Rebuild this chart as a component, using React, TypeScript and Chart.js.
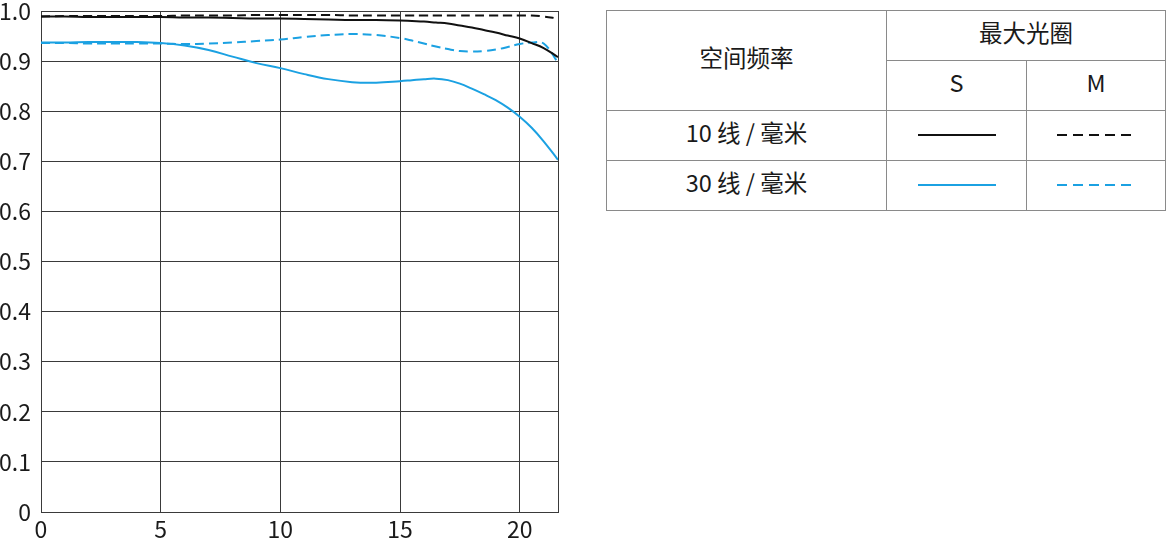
import React, { useEffect, useRef } from "react";
import { Chart, registerables } from "chart.js";

Chart.register(...registerables);

const X_POS = [0, 1, 2, 3, 4, 5, 6, 7, 8, 9, 10, 11, 12, 13, 14, 15, 15.5, 16, 16.5, 17, 17.5, 18, 18.5, 19, 19.5, 20, 20.5, 21, 21.6];
const S10 = [0.989, 0.989, 0.988, 0.988, 0.988, 0.988, 0.987, 0.987, 0.986, 0.985, 0.985, 0.984, 0.983, 0.982, 0.982, 0.981, 0.98, 0.979, 0.977, 0.975, 0.971, 0.967, 0.962, 0.957, 0.951, 0.945, 0.936, 0.926, 0.908];
const M10 = [0.989, 0.99, 0.99, 0.99, 0.99, 0.99, 0.991, 0.991, 0.991, 0.992, 0.992, 0.992, 0.992, 0.991, 0.991, 0.991, 0.991, 0.991, 0.991, 0.991, 0.991, 0.991, 0.991, 0.991, 0.991, 0.991, 0.991, 0.989, 0.985];
const S30 = [0.937, 0.937, 0.938, 0.938, 0.938, 0.936, 0.931, 0.922, 0.909, 0.896, 0.886, 0.874, 0.864, 0.858, 0.857, 0.86, 0.862, 0.864, 0.865, 0.862, 0.855, 0.845, 0.834, 0.822, 0.807, 0.789, 0.767, 0.74, 0.703];
const M30 = [0.936, 0.936, 0.935, 0.935, 0.935, 0.935, 0.934, 0.935, 0.937, 0.94, 0.943, 0.948, 0.952, 0.954, 0.952, 0.946, 0.941, 0.935, 0.929, 0.924, 0.92, 0.919, 0.92, 0.923, 0.928, 0.934, 0.937, 0.935, 0.897];
const X_TICKS = [0, 5, 10, 15, 20];
const X_MAX = 21.6;
const Y_MIN = 0;
const Y_MAX = 1;
const Y_STEP = 0.1;

const LEGEND_HEAD = "空间频率";
const LEGEND_GROUP = "最大光圈";
const LEGEND_COLS = ["S", "M"];
const LEGEND_ROWS = ["10 线 / 毫米", "30 线 / 毫米"];

const BLACK = "#111111";
const BLUE = "#1ba1e2";
const GRID = "#3a3a3a";
const FONT = "'Noto Sans CJK SC', 'Noto Sans', sans-serif";

const pts = (ys: number[]) => X_POS.map((x, i) => ({ x, y: ys[i] }));

function LegendLine({ color, dashed }: { color: string; dashed: boolean }) {
  const w = dashed ? 74 : 78;
  return (
    <svg
      width={w}
      height={4}
      style={{ display: "block", margin: "0 auto", transform: dashed ? "translate(-2px, -1px)" : "translate(0, -1px)" }}
    >
      <line x1={0} y1={2} x2={w} y2={2} stroke={color} strokeWidth={2} strokeDasharray={dashed ? "10 6" : undefined} />
    </svg>
  );
}

export default function App() {
  const ref = useRef<HTMLCanvasElement | null>(null);

  useEffect(() => {
    if (!ref.current) return;
    const line = { borderWidth: 2, pointRadius: 0, tension: 0.4, fill: false };
    const noPad = (scale: any) => {
      scale.paddingTop = 0;
      scale.paddingBottom = 0;
      scale.paddingLeft = 0;
      scale.paddingRight = 0;
    };
    const chart = new Chart(ref.current, {
      type: "line",
      data: {
        datasets: [
          { label: "10 S", data: pts(S10), borderColor: BLACK, ...line },
          { label: "10 M", data: pts(M10), borderColor: BLACK, borderDash: [9, 5], ...line },
          { label: "30 S", data: pts(S30), borderColor: BLUE, ...line },
          { label: "30 M", data: pts(M30), borderColor: BLUE, borderDash: [9, 5], ...line },
        ],
      },
      options: {
        animation: false,
        responsive: false,
        maintainAspectRatio: false,
        layout: { padding: { top: 11, right: 12, left: 0, bottom: 0 } },
        plugins: { legend: { display: false }, tooltip: { enabled: false } },
        scales: {
          x: {
            type: "linear",
            min: 0,
            max: X_MAX,
            afterBuildTicks: (scale: any) => {
              scale.ticks = [...X_TICKS, X_MAX].map((v) => ({ value: v }));
            },
            afterFit: (scale: any) => {
              scale.height = 31;
              noPad(scale);
            },
            ticks: {
              autoSkip: false,
              maxRotation: 0,
              padding: 3,
              color: "#1a1a1a",
              font: { family: FONT, size: 23 },
              callback: (v: any) => (X_TICKS.includes(Number(v)) ? String(v) : ""),
            },
            grid: { color: GRID, lineWidth: 1, drawTicks: false },
            border: { color: GRID, width: 1 },
          },
          y: {
            type: "linear",
            min: Y_MIN,
            max: Y_MAX,
            afterFit: (scale: any) => {
              scale.width = 41;
              noPad(scale);
            },
            ticks: {
              stepSize: Y_STEP,
              padding: 10,
              color: "#1a1a1a",
              font: { family: FONT, size: 23 },
              callback: (v: any) => (Number(v) === 0 ? "0" : Number(v).toFixed(1)),
            },
            grid: { color: GRID, lineWidth: 1, drawTicks: false },
            border: { color: GRID, width: 1 },
          },
        },
      },
    });
    return () => chart.destroy();
  }, []);

  const border = "1px solid #8a8a8a";
  const cell: React.CSSProperties = {
    border,
    padding: 0,
    textAlign: "center",
    verticalAlign: "middle",
    color: "#1a1a1a",
    fontFamily: FONT,
    fontSize: 23.5,
  };
  const Txt = ({ children }: { children: React.ReactNode }) => (
    <span style={{ position: "relative", top: -4 }}>{children}</span>
  );

  return (
    <div style={{ position: "absolute", left: 0, top: 0, width: 1166, height: 543, background: "#fff" }}>
      <canvas ref={ref} width={570} height={543} style={{ position: "absolute", left: 0, top: 0 }} />
      <table
        style={{
          position: "absolute",
          left: 606,
          top: 10,
          width: 559,
          height: 200,
          borderCollapse: "collapse",
          tableLayout: "fixed",
        }}
      >
        <colgroup>
          <col style={{ width: 280 }} />
          <col style={{ width: 140 }} />
          <col style={{ width: 139 }} />
        </colgroup>
        <tbody>
          <tr style={{ height: 50 }}>
            <td style={cell} rowSpan={2}><Txt>{LEGEND_HEAD}</Txt></td>
            <td style={cell} colSpan={2}><Txt>{LEGEND_GROUP}</Txt></td>
          </tr>
          <tr style={{ height: 50 }}>
            <td style={cell}><Txt>{LEGEND_COLS[0]}</Txt></td>
            <td style={cell}><Txt>{LEGEND_COLS[1]}</Txt></td>
          </tr>
          <tr style={{ height: 50 }}>
            <td style={cell}><Txt>{LEGEND_ROWS[0]}</Txt></td>
            <td style={cell}><LegendLine color={BLACK} dashed={false} /></td>
            <td style={cell}><LegendLine color={BLACK} dashed={true} /></td>
          </tr>
          <tr style={{ height: 50 }}>
            <td style={cell}><Txt>{LEGEND_ROWS[1]}</Txt></td>
            <td style={cell}><LegendLine color={BLUE} dashed={false} /></td>
            <td style={cell}><LegendLine color={BLUE} dashed={true} /></td>
          </tr>
        </tbody>
      </table>
    </div>
  );
}
